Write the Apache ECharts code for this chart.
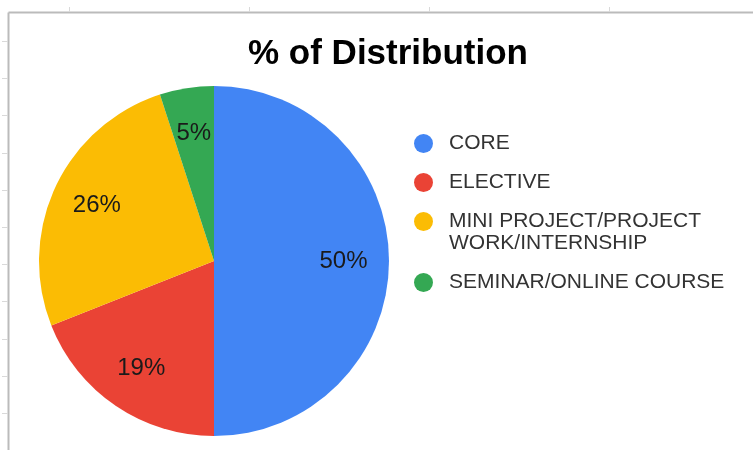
<!DOCTYPE html>
<html>
<head>
<meta charset="utf-8">
<script src="https://cdn.jsdelivr.net/npm/echarts@6/dist/echarts.min.js"></script>
<style>
  html, body { margin: 0; padding: 0; background: #fff; }
  #chart { width: 753px; height: 450px; }
</style>
</head>
<body>
<div id="chart"></div>
<script>
  // 数据
  var categories = ['CORE', 'ELECTIVE', 'MINI PROJECT/PROJECT\nWORK/INTERNSHIP', 'SEMINAR/ONLINE COURSE'];
  var shares = [50, 19, 26, 5];
  var colors = ['#4285f4', '#ea4335', '#fbbc04', '#34a853'];

  // 表格网格线的刻度（截图背景）
  var rowTicks = [41, 78, 115, 153, 190, 227, 264, 301, 339, 376, 413];
  var colTicks = [69, 249, 429, 609];

  var pieData = categories.map(function (name, i) {
    return { name: name, value: shares[i] };
  });

  // 图例里的圆点用富文本画，好让两行的那一项圆点对齐第一行
  var rich = {
    t: { fontSize: 21, color: '#333', lineHeight: 22, padding: [0, 0, 0, 16], fontFamily: 'Liberation Sans, Arial, sans-serif' },
    s: { width: 19, lineHeight: 22 }
  };
  colors.forEach(function (c, i) {
    rich['d' + i] = { width: 19, height: 19, borderRadius: 10, backgroundColor: c, lineHeight: 22 };
  });

  var bg = [];
  bg.push({ type: 'line', shape: { x1: 8.5, y1: 12.5, x2: 753, y2: 12.5 }, style: { stroke: '#bbb', lineWidth: 2 } });
  bg.push({ type: 'line', shape: { x1: 8.5, y1: 12.5, x2: 8.5, y2: 450 }, style: { stroke: '#bbb', lineWidth: 2 } });
  rowTicks.forEach(function (y) {
    bg.push({ type: 'line', shape: { x1: 2, y1: y + 0.5, x2: 8, y2: y + 0.5 }, style: { stroke: '#d9d9d9', lineWidth: 1 } });
  });
  colTicks.forEach(function (x) {
    bg.push({ type: 'line', shape: { x1: x + 0.5, y1: 7, x2: x + 0.5, y2: 12 }, style: { stroke: '#d9d9d9', lineWidth: 1 } });
  });

  var option = {
    backgroundColor: '#fff',
    color: colors,
    animation: false,
    title: {
      text: '% of Distribution',
      left: 388,
      top: 37,
      padding: 0,
      textAlign: 'center',
      textStyle: { fontSize: 35, fontWeight: 'bold', color: '#000', fontFamily: 'Liberation Sans, Arial, sans-serif' }
    },
    legend: {
      orient: 'vertical',
      left: 409,
      top: 133,
      padding: 0,
      icon: 'none',
      itemWidth: 0,
      itemHeight: 14,
      itemGap: 18,
      data: categories,
      formatter: function (name) {
        var i = categories.indexOf(name);
        return name.split('\n').map(function (line, k) {
          return (k === 0 ? '{d' + i + '|}' : '{s|}') + '{t|' + line + '}';
        }).join('\n');
      },
      textStyle: { rich: rich }
    },
    graphic: bg,
    series: [
      {
        // 扇区
        type: 'pie',
        center: [214, 261],
        radius: [0, 175],
        startAngle: 90,
        clockwise: true,
        silent: true,
        label: { show: false },
        labelLine: { show: false },
        data: pieData
      },
      {
        // 只放百分比标签（透明环，让标签离圆心更远）
        type: 'pie',
        center: [214, 261],
        radius: [78, 175],
        startAngle: 90,
        clockwise: true,
        silent: true,
        itemStyle: { color: 'rgba(0,0,0,0)' },
        label: {
          show: true,
          position: 'inside',
          formatter: '{d}%',
          fontSize: 24,
          color: '#1a1a1a',
          fontFamily: 'Liberation Sans, Arial, sans-serif'
        },
        labelLine: { show: false },
        data: pieData
      }
    ]
  };

  var myChart = echarts.init(document.getElementById('chart'));
  myChart.setOption(option);
</script>
</body>
</html>
